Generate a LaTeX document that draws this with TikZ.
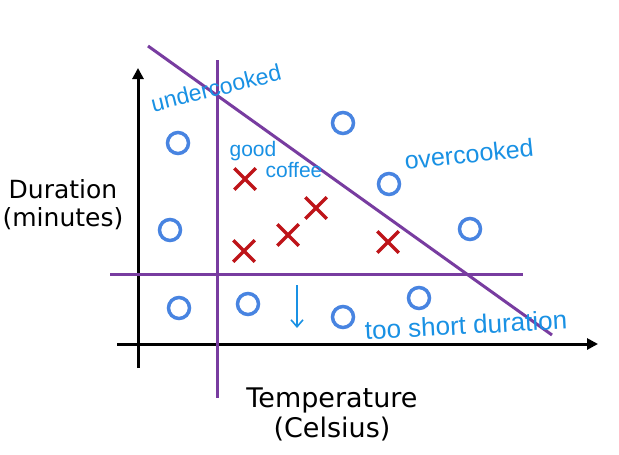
\documentclass[tikz,border=0pt]{standalone}
\usepackage{fontspec}
\setmainfont{DejaVu Sans}
\newfontfamily\handfont{Liberation Sans}
\usetikzlibrary{shapes.misc,arrows.meta}
\definecolor{bound}{RGB}{120,60,160}
\definecolor{goodc}{RGB}{72,132,225}
\definecolor{badx}{RGB}{190,20,25}
\definecolor{hand}{RGB}{25,145,228}
\tikzset{
  axisline/.style={line width=3pt,black},
  boundline/.style={line width=3pt,bound},
  ocirc/.style={circle,draw=goodc,line width=3.5pt,minimum size=21pt,inner sep=0pt},
  xmark/.style={cross out,draw=badx,line width=3.5pt,minimum size=18pt,inner sep=0pt},
  handtext/.style={text=hand,inner sep=0pt},
  axlabel/.style={align=center}
}
\begin{document}
\begin{tikzpicture}[x=1pt,y=-1pt]
\useasboundingbox[fill=white] (0,0) rectangle (619,455);
% axes
\coordinate (yb) at (138,368);
\coordinate (yt) at (138,68);
\coordinate (xl) at (117,344);
\coordinate (xr) at (598,344);
\draw[axisline,-{Triangle[length=11pt,width=11pt]}] (yb) -- (yt);
\draw[axisline,-{Triangle[length=11pt,width=11pt]}] (xl) -- (xr);
% boundaries
\coordinate (vt) at (217,60);
\coordinate (vb) at (217,398);
\coordinate (hl) at (110,274);
\coordinate (hr) at (523,274);
\coordinate (dt) at (148,46);
\coordinate (db) at (552,335);
\draw[boundline] (vt) -- (vb);
\draw[boundline] (hl) -- (hr);
\draw[boundline] (dt) -- (db);
% circles
\node[ocirc] (o1) at (178,143) {};
\node[ocirc] (o2) at (343,123) {};
\node[ocirc] (o3) at (389,184) {};
\node[ocirc] (o4) at (170,230) {};
\node[ocirc] (o5) at (470,229) {};
\node[ocirc] (o6) at (179,308) {};
\node[ocirc] (o7) at (248,304) {};
\node[ocirc] (o8) at (343,317) {};
\node[ocirc] (o9) at (419,298) {};
% crosses
\node[xmark] (x1) at (245,179) {};
\node[xmark] (x2) at (316,208) {};
\node[xmark] (x3) at (288,235) {};
\node[xmark] (x4) at (244,251) {};
\node[xmark] (x5) at (388,242) {};
% handwritten labels
\node[handtext,rotate=14,font=\handfont\fontsize{23}{23}\selectfont] (uc) at (216,88) {undercooked};
\node[handtext,rotate=6,font=\handfont\fontsize{25}{25}\selectfont] (oc) at (469,154) {overcooked};
\node[handtext,font=\handfont\fontsize{21}{21}\selectfont] (gd) at (253,151) {good};
\node[handtext,font=\handfont\fontsize{21}{21}\selectfont] (cf) at (294,170) {coffee};
\node[handtext,rotate=3,font=\handfont\fontsize{26}{26}\selectfont] (ts) at (466,325) {too short duration};
\coordinate (at) at (297,285);
\coordinate (ab) at (297,328);
\draw[hand,line width=1.6pt,-{Straight Barb[length=7pt,width=12pt]}] (at) -- (ab);
% axis labels
\node[axlabel,font=\fontsize{25}{28}\selectfont] (dl) at (63,205) {Duration\\(minutes)};
\node[axlabel,font=\fontsize{27}{30}\selectfont] (tl) at (332,414) {Temperature\\(Celsius)};
\end{tikzpicture}
\end{document}
